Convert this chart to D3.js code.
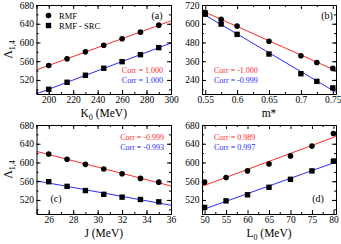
<!DOCTYPE html>
<html>
<head>
<meta charset="utf-8">
<script src="https://cdn.jsdelivr.net/npm/d3@7"></script>
<style>
  body { margin: 0; background: #fff; }
  svg { display: block; font-family: "Liberation Serif", "Times New Roman", serif; }
</style>
</head>
<body>
<script>
// ---- data ------------------------------------------------
const K0 = [200, 215, 230, 245, 260, 275, 290];
const K0_rmf = [551, 565, 580, 594, 608, 622, 637];
const K0_src = [500, 515, 530, 545, 559, 574, 589];

const mStar = [0.55, 0.575, 0.6, 0.65, 0.7, 0.725, 0.75];
const mStar_rmf = [673, 629, 585, 488, 395, 352, 314];
const mStar_src = [661, 598, 532, 406, 280, 231, 189];

const J = [26, 27.5, 29, 30.5, 32, 33.5, 35];
const J_rmf = [618, 607, 596, 586, 576, 566, 558];
const J_src = [559, 549, 540, 532, 526, 521, 516];

const L0 = [50, 55, 60, 65, 70, 75, 80];
const L0_rmf = [558, 568, 582, 597, 614, 635, 662];
const L0_src = [504, 518, 531, 547, 564, 582, 603];

const corrLabels = {
  a: ["Corr = 1.000", "Corr = 1.000"],
  b: ["Corr = -1.000", "Corr = -0.999"],
  c: ["Corr = -0.999", "Corr = -0.993"],
  d: ["Corr = 0.989", "Corr = 0.997"]
};

const RED = "#ff2a2a";
const BLUE = "#2a2aff";

const W = 341, H = 244;
const svg = d3.select("body").append("svg")
  .attr("width", W).attr("height", H)
  .attr("viewBox", `0 0 ${W} ${H}`);

const panels = [
  { id: "a", x: K0, r: K0_rmf, s: K0_src, box: [36.5, 171, 5, 94],
    xd: [190, 300], xMaj: d3.range(200, 301, 20), xMin: d3.range(190, 301, 10),
    yd: [490, 680], yMaj: d3.range(520, 681, 40), yMin: d3.range(500, 681, 20),
    xlab: "K", xsub: "0", xrest: " (MeV)", ylab: true,
    corr: { x: 163, y: 73, anchor: "end" }, tag: { x: 157, y: 19 } },
  { id: "b", x: mStar, r: mStar_rmf, s: mStar_src, box: [202, 336, 5, 94],
    xd: [0.545, 0.755], xMaj: [0.55, 0.6, 0.65, 0.7, 0.75], xMin: [0.575, 0.625, 0.675, 0.725],
    yd: [150, 720], yMaj: d3.range(240, 721, 120), yMin: d3.range(180, 721, 60),
    xlab: "m*", xsub: "", xrest: "", ylab: false,
    corr: { x: 214, y: 73, anchor: "start" }, tag: { x: 327, y: 19 } },
  { id: "c", x: J, r: J_rmf, s: J_src, box: [36.5, 171, 125, 214],
    xd: [25, 36], xMaj: d3.range(26, 37, 2), xMin: d3.range(25, 37, 1),
    yd: [490, 680], yMaj: d3.range(520, 681, 40), yMin: d3.range(500, 681, 20),
    xlab: "J (MeV)", xsub: "", xrest: "", ylab: true,
    corr: { x: 164, y: 140, anchor: "end" }, tag: { x: 56, y: 202 } },
  { id: "d", x: L0, r: L0_rmf, s: L0_src, box: [202, 336, 125, 214],
    xd: [49.4, 80.6], xMaj: d3.range(50, 81, 5), xMin: d3.range(52.5, 80, 5),
    yd: [490, 680], yMaj: d3.range(520, 681, 40), yMin: d3.range(500, 681, 20),
    xlab: "L", xsub: "0", xrest: " (MeV)", ylab: false,
    corr: { x: 214, y: 140, anchor: "start" }, tag: { x: 318, y: 202 } }
];

// least-squares fit, used for the straight lines
function fit(xs, ys) {
  const mx = d3.mean(xs), my = d3.mean(ys);
  const b = d3.sum(xs, (x, i) => (x - mx) * (ys[i] - my)) / d3.sum(xs, x => (x - mx) ** 2);
  return x => my + b * (x - mx);
}

panels.forEach(p => {
  const [x0, x1, y0, y1] = p.box;
  const g = svg.append("g");
  const x = d3.scaleLinear().domain(p.xd).range([x0, x1]);
  const y = d3.scaleLinear().domain(p.yd).range([y1, y0]);

  const clip = "clip-" + p.id;
  g.append("clipPath").attr("id", clip).append("rect")
    .attr("x", x0).attr("y", y0).attr("width", x1 - x0).attr("height", y1 - y0);

  // fitted lines
  [[p.r, RED], [p.s, BLUE]].forEach(([ys, col]) => {
    const f = fit(p.x, ys);
    g.append("line").attr("clip-path", `url(#${clip})`)
      .attr("x1", x(p.xd[0])).attr("y1", y(f(p.xd[0])))
      .attr("x2", x(p.xd[1])).attr("y2", y(f(p.xd[1])))
      .attr("stroke", col).attr("stroke-width", 1);
  });

  // markers
  g.selectAll(".c").data(p.x).join("circle")
    .attr("cx", d => x(d)).attr("cy", (d, i) => y(p.r[i])).attr("r", 2.8).attr("fill", "#000");
  g.selectAll(".s").data(p.x).join("rect")
    .attr("x", d => x(d) - 2.7).attr("y", (d, i) => y(p.s[i]) - 2.7)
    .attr("width", 5.4).attr("height", 5.4).attr("fill", "#000");

  // axes, ticks pointing inward on all four sides
  const fmt = d => String(+d.toFixed(3));
  const axes = [
    [d3.axisBottom(x), `translate(0,${y1})`, p.xMaj, p.xMin, true],
    [d3.axisTop(x), `translate(0,${y0})`, p.xMaj, p.xMin, false],
    [d3.axisLeft(y), `translate(${x0},0)`, p.yMaj, p.yMin, true],
    [d3.axisRight(y), `translate(${x1},0)`, p.yMaj, p.yMin, false]
  ];
  axes.forEach(([ax, tr, maj, min, labels]) => {
    const a1 = g.append("g").attr("transform", tr)
      .call(ax.tickValues(maj).tickSize(-4).tickPadding(labels ? 2.5 : 0)
        .tickFormat(labels ? fmt : ""));
    g.append("g").attr("transform", tr)
      .call(ax.tickValues(min).tickSize(-2).tickFormat(""))
      .select(".domain").remove();
    a1.selectAll("text").attr("font-size", 9.5).attr("fill", "#000")
      .attr("font-family", "Liberation Serif, serif");
    g.selectAll(".domain").attr("stroke", "#000");
    g.selectAll(".tick line").attr("stroke", "#000");
  });

  // x label
  const xl = g.append("text").attr("x", (x0 + x1) / 2).attr("y", y1 + 23)
    .attr("text-anchor", "middle").attr("font-size", 11.5);
  xl.append("tspan").text(p.xlab);
  if (p.xsub) {
    xl.append("tspan").attr("font-size", 8).attr("dy", 3).text(p.xsub);
    xl.append("tspan").attr("dy", -3).text(p.xrest);
  }

  // y label
  if (p.ylab) {
    const yl = g.append("text")
      .attr("transform", `translate(12,${(y0 + y1) / 2}) rotate(-90)`)
      .attr("text-anchor", "middle").attr("font-size", 12);
    yl.append("tspan").text("Λ");
    yl.append("tspan").attr("font-size", 8).attr("dy", 3).text("1,4");
  }

  // correlations
  [RED, BLUE].forEach((col, i) => {
    g.append("text").attr("x", p.corr.x).attr("y", p.corr.y + i * 9.5)
      .attr("text-anchor", p.corr.anchor).attr("font-size", 8).attr("fill", col)
      .text(corrLabels[p.id][i]);
  });

  g.append("text").attr("x", p.tag.x).attr("y", p.tag.y)
    .attr("text-anchor", "middle").attr("font-size", 10).text(`(${p.id})`);
});

// legend in panel (a)
const leg = svg.append("g").attr("font-size", 8.5);
leg.append("circle").attr("cx", 48.5).attr("cy", 15.5).attr("r", 2.8);
leg.append("text").attr("x", 59).attr("y", 18.5).text("RMF");
leg.append("rect").attr("x", 45.8).attr("y", 22.8).attr("width", 5.4).attr("height", 5.4);
leg.append("text").attr("x", 59).attr("y", 28.5).text("RMF - SRC");
</script>
</body>
</html>
